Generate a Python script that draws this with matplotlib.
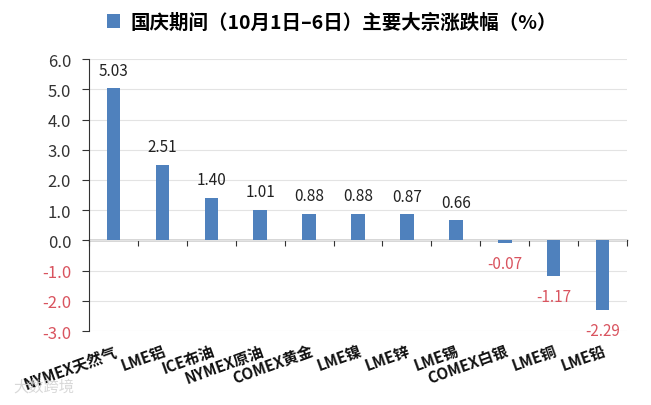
import matplotlib.pyplot as plt
from matplotlib.patches import Patch

plt.rcParams['font.family'] = ['Noto Sans CJK SC', 'DejaVu Sans']

categories = ['NYMEX天然气', 'LME铝', 'ICE布油', 'NYMEX原油', 'COMEX黄金', 'LME镍',
              'LME锌', 'LME锡', 'COMEX白银', 'LME铜', 'LME铅']
values = [5.03, 2.51, 1.40, 1.01, 0.88, 0.88, 0.87, 0.66, -0.07, -1.17, -2.29]
yticks = [-3.0, -2.0, -1.0, 0.0, 1.0, 2.0, 3.0, 4.0, 5.0, 6.0]
title = '国庆期间（10月1日–6日）主要大宗涨跌幅（%）'

bar_color = '#4F81BD'
neg_color = '#D9545F'
axis_color = '#333333'

fig = plt.figure(figsize=(6.51, 4.06), dpi=100)
ax = fig.add_axes([0.137, 0.182, 0.826, 0.670])

n = len(categories)
x = list(range(n))
ax.bar(x, values, width=0.28, color=bar_color, zorder=3)

# value labels: above positive bars, below negative bars
for xi, v in zip(x, values):
    if v >= 0:
        ax.text(xi, v + 0.6, f'{v:.2f}', ha='center', va='center', fontsize=11, color='#222222')
    else:
        ax.text(xi, v - 0.68, f'{v:.2f}', ha='center', va='center', fontsize=11, color=neg_color)

ymin, ymax = -3.0, 6.0
ax.set_ylim(ymin, ymax)
ax.set_xlim(-0.5, n - 0.5)
ax.set_yticks(yticks)
ax.set_yticklabels([f'{t:.1f}' for t in yticks], fontsize=12)
for lbl, t in zip(ax.get_yticklabels(), yticks):
    lbl.set_color(neg_color if t < 0 else '#333333')

ax.grid(axis='y', color='#e3e3e3', linewidth=0.8, zorder=0)
for s in ['top', 'right', 'bottom']:
    ax.spines[s].set_visible(False)
ax.spines['left'].set_color(axis_color)
ax.tick_params(axis='y', length=5, color=axis_color, direction='out', pad=8)
ax.tick_params(axis='x', length=0, pad=8)

ax.set_xticks(x)
ax.set_xticklabels(categories, rotation=20, ha='right', rotation_mode='anchor',
                   fontsize=11, fontweight='bold', color='#111111')

# zero line with small ticks between categories
zero_frac = (0 - ymin) / (ymax - ymin)
zaxis = ax.secondary_xaxis(zero_frac)
zaxis.set_xticks([i - 0.5 for i in range(n + 1)])
zaxis.set_xticklabels([])
zaxis.tick_params(length=4, color=axis_color, direction='out')
zaxis.spines['bottom'].set_color(axis_color)
zaxis.spines['bottom'].set_linewidth(1.0)

fig.legend(handles=[Patch(facecolor=bar_color, label=title)], loc='center left',
           bbox_to_anchor=(0.137, 0.943), frameon=False,
           handlelength=0.7, handleheight=0.7, handletextpad=0.5,
           prop={'weight': 'bold', 'size': 14})

# watermark
fig.text(0.02, 0.035, '大数跨境', fontsize=11, color='#cfcfcf', alpha=0.8)

fig.savefig('out.png', dpi=100)
